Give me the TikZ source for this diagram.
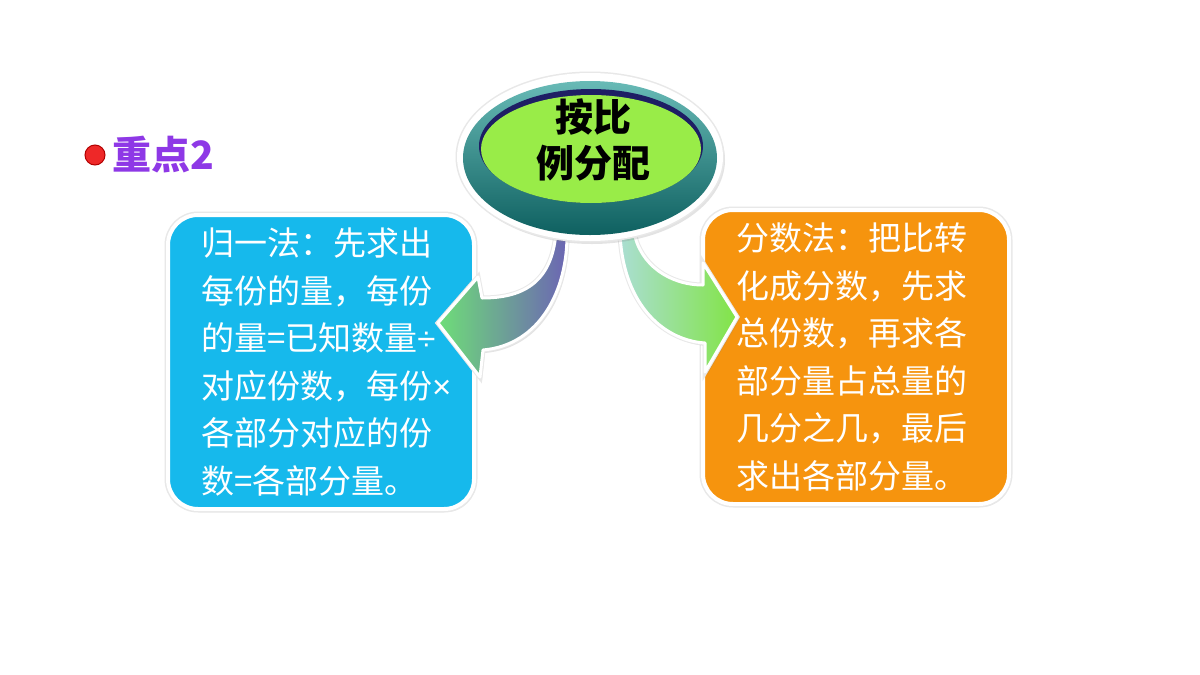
\documentclass[tikz,border=0pt]{standalone}
\usepackage{fontspec}
\setmainfont{Noto Sans CJK SC}
\newfontfamily\latinsym{Liberation Sans}
\usepackage{tikz}
\usetikzlibrary{shadows}

\definecolor{boxcyan}{RGB}{22,185,236}
\definecolor{boxorange}{RGB}{246,148,14}
\definecolor{capgreen}{RGB}{153,236,72}
\definecolor{capnavy}{RGB}{30,30,100}
\definecolor{baselight}{RGB}{104,186,182}
\definecolor{basedark}{RGB}{14,96,96}
\definecolor{keypurple}{RGB}{142,56,230}
\definecolor{dotred}{RGB}{238,40,40}
\definecolor{arrowgreen}{RGB}{110,222,120}
\definecolor{arrowpurple}{RGB}{108,100,180}
\definecolor{arrowteal}{RGB}{170,222,210}
\definecolor{arrowlime}{RGB}{130,228,70}

\begin{document}
\begin{tikzpicture}[x=1pt, y=-1pt, every node/.style={inner sep=0pt},
    softshadow/.style={drop shadow={opacity=0.22, shadow xshift=2pt, shadow yshift=-3pt}},
    halo/.style={preaction={draw=black!9, line width=#1}},
    methodbox/.style={rounded corners=30pt, draw=white, line width=4pt, softshadow, halo=7pt,
        minimum width=306pt, minimum height=294pt, text=white, align=left,
        text width=240pt, font=\fontsize{33}{47.5}\selectfont},
    fatarrow/.style={draw=white, line width=3pt, line join=round, softshadow, halo=5pt}]
    \fill[white] (0,0) rectangle (1200,675);
    \useasboundingbox (0,0) rectangle (1200,675);

    % Key point label
    \node[circle, fill=dotred, draw=red!70!black, line width=1pt, minimum size=20pt] (dot) at (95,155) {};
    \node[anchor=west, text=keypurple, font=\bfseries\fontsize{39}{42}\selectfont] (keypt) at (112,155) {重点2};

    % Two methods
    \node[methodbox, fill=boxcyan] (guiyi) at (321,362)
        {归一法：先求出\\每份的量，每份\\的量=已知数量{\latinsym ÷}\\对应份数，每份{\latinsym ×}\\各部分对应的份\\数=各部分量。};
    \node[methodbox, fill=boxorange] (fenshu) at (856,357)
        {分数法：把比转\\化成分数，先求\\总份数，再求各\\部分量占总量的\\几分之几，最后\\求出各部分量。};

    % Curved arrows
    \shade[fatarrow, left color=arrowgreen, right color=arrowpurple]
        (556,232) .. controls (552,285) and (520,298) .. (482,298)
        -- (478,277) -- (438,323) -- (480,377) -- (483,350)
        .. controls (540,345) and (568,290) .. (567,232) -- cycle;
    \shade[fatarrow, left color=arrowteal, right color=arrowlime]
        (620,232) .. controls (622,300) and (660,340) .. (705,343)
        -- (705,372) -- (737,317) -- (703,263) -- (703,285)
        .. controls (670,285) and (640,265) .. (634,232) -- cycle;

    % Central button
    \fill[white, softshadow, halo=3pt] (590,157) ellipse [x radius=133, y radius=84];
    \shade[top color=baselight, bottom color=basedark] (590,158) ellipse [x radius=127, y radius=77];
    \fill[capnavy] (591,146) ellipse [x radius=112, y radius=57];
    \fill[capgreen] (591,149) ellipse [x radius=110, y radius=54];
    \node[font=\bfseries\fontsize{38}{46}\selectfont, align=center] (title) at (593,140) {按比\\例分配};
\end{tikzpicture}
\end{document}
